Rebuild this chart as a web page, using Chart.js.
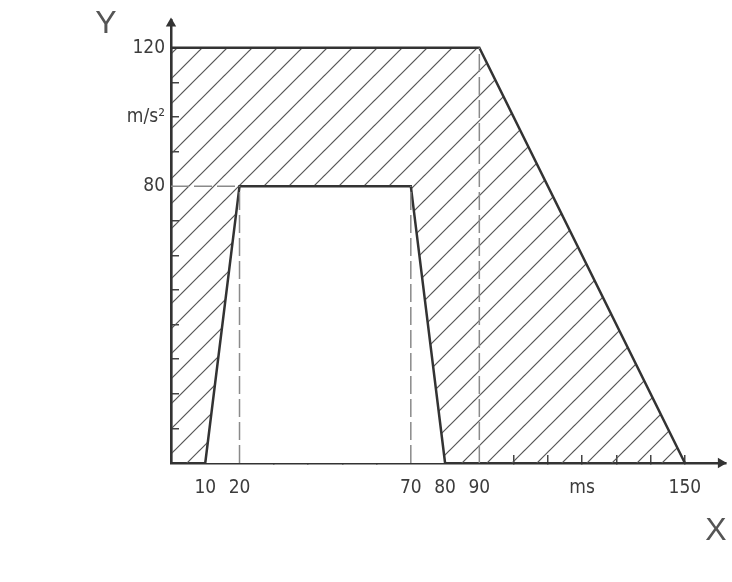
<!DOCTYPE html>
<html>
<head>
<meta charset="utf-8">
<script src="https://cdn.jsdelivr.net/npm/chart.js@4"></script>
<style>
  html, body { margin: 0; padding: 0; background: #fff; }
  #wrap { width: 732px; height: 582px; }
</style>
</head>
<body>
<div id="wrap"><canvas id="chart" width="732" height="582"></canvas></div>
<script>
// Tick labels
const xTickValues = [10, 20, 70, 80, 90, 120, 150];
const xTickLabels = ['10', '20', '70', '80', '90', 'ms', '150'];
const yTickValues = [80, 100, 120];
const yTickLabels = ['80', 'm/s²', '120'];

// Outer corridor (hatched) and inner corridor (white)
const outerX = [0, 0, 90, 150];
const outerY = [0, 120, 120, 0];
const innerX = [10, 20, 70, 80];
const innerY = [0, 80, 80, 0];

// Dashed helper lines
const guide20X = [20, 20];
const guide20Y = [0, 80];
const guide70X = [70, 70];
const guide70Y = [0, 80];
const guide90X = [90, 90];
const guide90Y = [0, 120];
const guide80X = [0, 20];
const guide80Y = [80, 80];

// Axis arrow heads
const arrowYPoint = [0, 127];
const arrowXPoint = [160.5, 0];

// Tick marks that are hidden (covered by lines in the original)
const xHiddenTicks = [0, 10, 20, 70, 80, 90, 160];
const yHiddenTicks = [0, 80, 120];

const ink = '#333';
const labelFont = { family: "'Liberation Sans Narrow', 'DejaVu Sans Condensed', 'Liberation Sans', sans-serif", size: 19 };

function toPoints(xs, ys) {
  return xs.map((x, i) => ({ x: x, y: ys[i] }));
}

// Hachures diagonales
function makeHatch() {
  const size = 25;
  const c = document.createElement('canvas');
  c.width = size;
  c.height = size;
  const g = c.getContext('2d');
  g.strokeStyle = '#555';
  g.lineWidth = 1.2;
  [0, size, 2 * size].forEach(k => {
    g.beginPath();
    g.moveTo(k + 2, -2);
    g.lineTo(k - size - 2, size + 2);
    g.stroke();
  });
  return g.createPattern(c, 'repeat');
}

function guide(xs, ys) {
  return {
    data: toPoints(xs, ys),
    borderColor: '#8a8a8a',
    borderWidth: 1.5,
    borderDash: [18, 5],
    pointRadius: 0,
    fill: false,
    order: 3
  };
}

// pas de marge automatique autour des axes
function noScalePadding(scale) {
  scale.paddingLeft = 0;
  scale.paddingRight = 0;
  scale.paddingTop = 0;
  scale.paddingBottom = 0;
}

// Lettres X et Y des axes
const axisLetters = {
  id: 'axisLetters',
  afterDraw(chart) {
    const ctx = chart.ctx;
    ctx.save();
    ctx.fillStyle = '#555';
    ctx.font = "32px 'Liberation Sans', sans-serif";
    ctx.textAlign = 'center';
    ctx.textBaseline = 'middle';
    ctx.fillText('Y', 106, 24);
    ctx.fillText('X', 716, 531);
    ctx.restore();
  }
};

new Chart(document.getElementById('chart'), {
  type: 'line',
  data: {
    datasets: [
      {
        data: toPoints(innerX, innerY),
        borderColor: ink,
        borderWidth: 2.5,
        backgroundColor: '#fff',
        fill: 'origin',
        pointRadius: 0,
        order: 4
      },
      {
        data: toPoints(outerX, outerY),
        borderColor: ink,
        borderWidth: 2.5,
        backgroundColor: makeHatch(),
        fill: 'origin',
        pointRadius: 0,
        order: 5
      },
      guide(guide20X, guide20Y),
      guide(guide70X, guide70Y),
      guide(guide90X, guide90Y),
      guide(guide80X, guide80Y),
      {
        data: [{ x: arrowYPoint[0], y: arrowYPoint[1] }],
        pointStyle: 'triangle',
        pointRadius: 6,
        rotation: 0,
        backgroundColor: ink,
        borderWidth: 0,
        showLine: false,
        clip: false,
        order: 1
      },
      {
        data: [{ x: arrowXPoint[0], y: arrowXPoint[1] }],
        pointStyle: 'triangle',
        pointRadius: 6,
        rotation: 90,
        backgroundColor: ink,
        borderWidth: 0,
        showLine: false,
        clip: false,
        order: 1
      }
    ]
  },
  options: {
    responsive: false,
    animation: false,
    layout: { padding: { left: 0, right: 4, top: 20, bottom: 0 } },
    plugins: {
      legend: { display: false },
      tooltip: { enabled: false }
    },
    scales: {
      x: {
        type: 'linear',
        min: 0,
        max: 162,
        z: 1,
        afterFit: (scale) => { scale.height = 119; noScalePadding(scale); },
        border: { color: ink, width: 2.5 },
        grid: {
          drawOnChartArea: false,
          tickLength: -8,
          lineWidth: 1.5,
          color: (c) => xHiddenTicks.includes(c.tick && c.tick.value) ? 'rgba(0,0,0,0)' : '#444'
        },
        ticks: {
          stepSize: 10,
          includeBounds: false,
          autoSkip: false,
          maxRotation: 0,
          padding: 22,
          color: '#3c3c3c',
          font: labelFont,
          callback: (v) => {
            const i = xTickValues.indexOf(v);
            return i >= 0 ? xTickLabels[i] : '';
          }
        }
      },
      y: {
        type: 'linear',
        min: 0,
        max: 128,
        z: 1,
        afterFit: (scale) => { scale.width = 171; noScalePadding(scale); },
        border: { color: ink, width: 2.5 },
        grid: {
          drawOnChartArea: false,
          tickLength: -8,
          lineWidth: 1.5,
          color: (c) => yHiddenTicks.includes(c.tick && c.tick.value) ? 'rgba(0,0,0,0)' : '#444'
        },
        ticks: {
          stepSize: 10,
          includeBounds: false,
          autoSkip: false,
          padding: 14,
          color: '#3c3c3c',
          font: labelFont,
          callback: (v) => {
            const i = yTickValues.indexOf(v);
            return i >= 0 ? yTickLabels[i] : '';
          }
        }
      }
    }
  },
  plugins: [axisLetters]
});
</script>
</body>
</html>
